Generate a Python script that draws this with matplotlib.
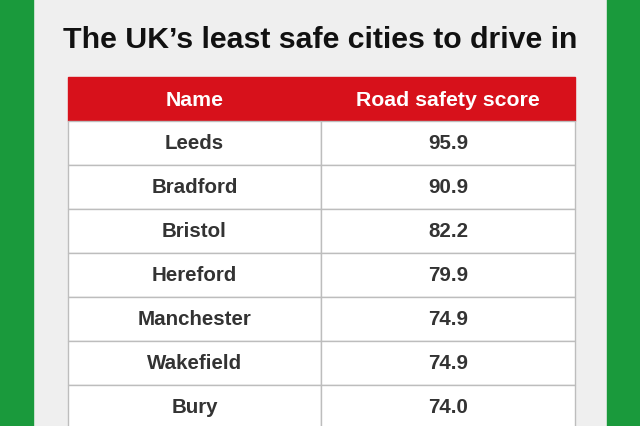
import matplotlib.pyplot as plt
from matplotlib.patches import Rectangle

title = "The UK\u2019s least safe cities to drive in"
headers = ["Name", "Road safety score"]
names = ["Leeds", "Bradford", "Bristol", "Hereford", "Manchester", "Wakefield", "Bury"]
scores = ["95.9", "90.9", "82.2", "79.9", "74.9", "74.9", "74.0"]

fig = plt.figure(figsize=(6.4, 4.27), dpi=100)
ax = fig.add_axes([0, 0, 1, 1])
ax.set_xlim(0, 640)
ax.set_ylim(427, 0)
ax.axis("off")

# background and green side strips
ax.add_patch(Rectangle((0, 0), 640, 427, color="#efefef", zorder=0))
ax.add_patch(Rectangle((0, 0), 33, 427, color="#1a9a3c", zorder=1))
ax.add_patch(Rectangle((607, 0), 33, 427, color="#1a9a3c", zorder=1))

ax.text(320, 40, title, ha="center", va="center", fontsize=21.8,
        fontweight="bold", family="Liberation Sans", color="#111111")

x0, x1, xm = 68, 575, 321
top, hh, rh = 78, 44, 44
fs = 14.8

ax.add_patch(Rectangle((x0, top), x1 - x0, hh, color="#d7111b", zorder=2))
ax.text((x0 + xm) / 2, top + hh / 2, headers[0], ha="center", va="center",
        color="white", fontsize=15.3, fontweight="bold", family="Liberation Sans", zorder=3)
ax.text((xm + x1) / 2, top + hh / 2, headers[1], ha="center", va="center",
        color="white", fontsize=15.3, fontweight="bold", family="Liberation Sans", zorder=3)

for i, (n, s) in enumerate(zip(names, scores)):
    y = top + hh + i * rh
    ax.add_patch(Rectangle((x0, y), xm - x0, rh, facecolor="white",
                           edgecolor="#bdbdbd", lw=1, zorder=2))
    ax.add_patch(Rectangle((xm, y), x1 - xm, rh, facecolor="white",
                           edgecolor="#bdbdbd", lw=1, zorder=2))
    ax.text((x0 + xm) / 2, y + rh / 2, n, ha="center", va="center",
            fontsize=fs, fontweight="bold", family="Liberation Sans", color="#333333", zorder=3)
    ax.text((xm + x1) / 2, y + rh / 2, s, ha="center", va="center",
            fontsize=fs, fontweight="bold", family="Liberation Sans", color="#333333", zorder=3)

fig.savefig("out.png", dpi=100)
